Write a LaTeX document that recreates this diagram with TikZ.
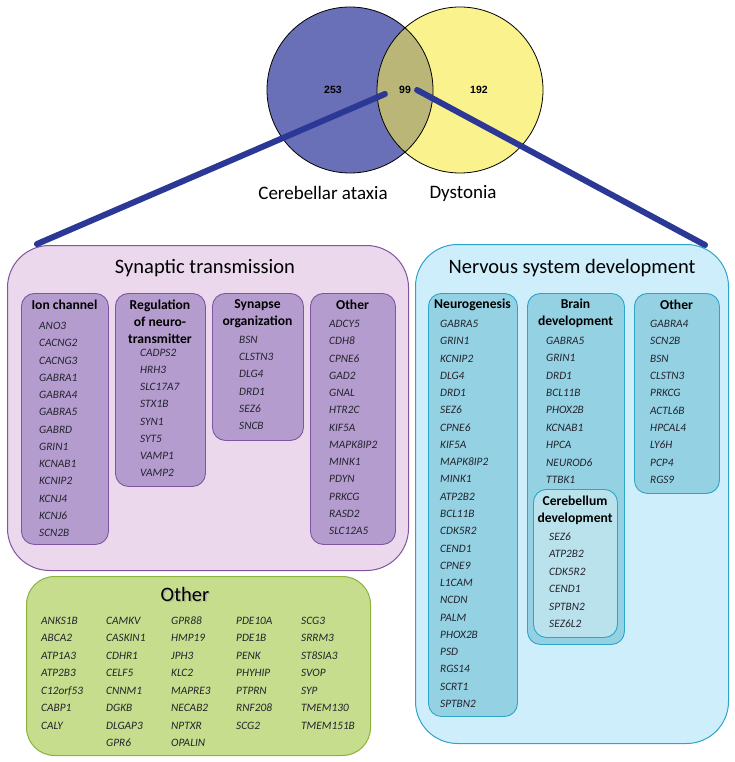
\documentclass[tikz,border=0pt]{standalone}
\usepackage{fontspec}
\setmainfont{Carlito}
\newfontfamily\numfont{Liberation Sans}
\usetikzlibrary{positioning}

\definecolor{ataxia}{RGB}{106,112,184}
\definecolor{dyst}{RGB}{250,242,140}
\definecolor{overlap}{RGB}{186,182,120}
\definecolor{linkblue}{RGB}{43,56,150}
\definecolor{synfill}{RGB}{236,216,236}
\definecolor{synline}{RGB}{125,85,160}
\definecolor{synsub}{RGB}{181,156,207}
\definecolor{nsdfill}{RGB}{207,238,251}
\definecolor{nsdline}{RGB}{45,165,200}
\definecolor{nsdsub}{RGB}{148,209,226}
\definecolor{cerfill}{RGB}{186,226,237}
\definecolor{othfill}{RGB}{197,221,140}
\definecolor{othline}{RGB}{140,178,62}
\definecolor{genetext}{RGB}{35,35,45}

\tikzset{
  bigbox/.style={draw, line width=1pt, rounded corners=42pt, anchor=north west, inner sep=0pt},
  subbox/.style={draw, line width=0.9pt, rounded corners=13pt, anchor=north west, inner sep=0pt},
  gene/.style={anchor=west, inner sep=0pt, text height=7pt, text depth=0pt, text=genetext,
    font=\fontsize{11.3}{13}\selectfont\itshape},
  head/.style={inner sep=0pt, align=center, font=\fontsize{13.6}{17}\selectfont\bfseries},
  title/.style={inner sep=0pt, font=\fontsize{20.5}{24}\selectfont},
  count/.style={inner sep=0pt, font=\numfont\fontsize{10.5}{12}\selectfont\bfseries},
  link/.style={linkblue, line width=6pt, line cap=round},
}

\begin{document}
\begin{tikzpicture}[x=1pt,y=-1pt]
  \useasboundingbox (0,0) rectangle (734,762);

  % Venn
  \fill[ataxia] (350,90) circle (83);
  \fill[dyst] (460,90) circle (83);
  \begin{scope}
    \clip (350,90) circle (83);
    \fill[overlap] (460,90) circle (83);
  \end{scope}
  \draw[line width=0.8pt] (350,90) circle (83) (460,90) circle (83);
  \node[count] (n253) at (333,90) {253};
  \node[count] (n99) at (405,90) {99};
  \node[count] (n192) at (479,90) {192};
  \node[inner sep=0pt, font=\fontsize{19}{22}\selectfont] (ataxialbl) at (323,193) {Cerebellar ataxia};
  \node[inner sep=0pt, font=\fontsize{19}{22}\selectfont] (dystlbl) at (463,193) {Dystonia};

  % Boxes
  \node[bigbox, fill=synfill, draw=synline, minimum width=401, minimum height=325] (syn) at (7,245) {};
  \node[bigbox, fill=nsdfill, draw=nsdline, minimum width=313, minimum height=499] (nsd) at (415,244) {};
  \node[bigbox, rounded corners=28pt, fill=othfill, draw=othline, minimum width=344, minimum height=179] (oth) at (26,576) {};

  \coordinate (synend) at (37,244);
  \coordinate (nsdend) at (705,245);
  \draw[link] (n99.west) ++(-14,4) -- (synend);
  \draw[link] (n99.east) ++(6,0) -- (nsdend);

  % Synaptic transmission
  \node[title] (syntitle) at (205,268) {Synaptic transmission};
  \node[subbox, fill=synsub, draw=synline, minimum width=87, minimum height=251] (ionbox) at (21,293) {};
  \node[subbox, fill=synsub, draw=synline, minimum width=90, minimum height=193] (regbox) at (115,293) {};
  \node[subbox, fill=synsub, draw=synline, minimum width=91, minimum height=147] (orgbox) at (212,293) {};
  \node[subbox, fill=synsub, draw=synline, minimum width=85, minimum height=251] (sothbox) at (310,293) {};
  \node[head] (ionhead) at (64.5,305) {Ion channel};
  \node[head] (reghead) at (160,321.5) {Regulation\\of neuro-\\transmitter};
  \node[head] (orghead) at (257.5,313.5) {Synapse\\organization};
  \node[head] (sothhead) at (352.5,305) {Other};
  \foreach \g [count=\i] in {ANO3,CACNG2,CACNG3,GABRA1,GABRA4,GABRA5,GABRD,GRIN1,KCNAB1,KCNIP2,KCNJ4,KCNJ6,SCN2B}
    \node[gene] (ion\i) at (39,{326+17.25*(\i-1)}) {\g};
  \foreach \g [count=\i] in {CADPS2,HRH3,SLC17A7,STX1B,SYN1,SYT5,VAMP1,VAMP2}
    \node[gene] (reg\i) at (140,{353+17.15*(\i-1)}) {\g};
  \foreach \g [count=\i] in {BSN,CLSTN3,DLG4,DRD1,SEZ6,SNCB}
    \node[gene] (org\i) at (239,{340+17.2*(\i-1)}) {\g};
  \foreach \g [count=\i] in {ADCY5,CDH8,CPNE6,GAD2,GNAL,HTR2C,KIF5A,MAPK8IP2,MINK1,PDYN,PRKCG,RASD2,SLC12A5}
    \node[gene] (soth\i) at (329,{324+17.25*(\i-1)}) {\g};

  % Nervous system development
  \node[title] (nsdtitle) at (572,268) {Nervous system development};
  \node[subbox, fill=nsdsub, draw=nsdline, minimum width=89, minimum height=423] (neurobox) at (428,293) {};
  \node[subbox, fill=nsdsub, draw=nsdline, minimum width=97, minimum height=351] (brainbox) at (527,293) {};
  \node[subbox, fill=cerfill, draw=nsdline, minimum width=84, minimum height=148] (cerbox) at (533,489) {};
  \node[subbox, fill=nsdsub, draw=nsdline, minimum width=85, minimum height=200] (nothbox) at (634,293) {};
  \node[head] (neurohead) at (472.5,305) {Neurogenesis};
  \node[head] (brainhead) at (575.5,313.5) {Brain\\development};
  \node[head] (cerhead) at (575,510.5) {Cerebellum\\development};
  \node[head] (nothhead) at (676.5,305) {Other};
  \foreach \g [count=\i] in {GABRA5,GRIN1,KCNIP2,DLG4,DRD1,SEZ6,CPNE6,KIF5A,MAPK8IP2,MINK1,ATP2B2,BCL11B,CDK5R2,CEND1,CPNE9,L1CAM,NCDN,PALM,PHOX2B,PSD,RGS14,SCRT1,SPTBN2}
    \node[gene] (neuro\i) at (440,{324+17.27*(\i-1)}) {\g};
  \foreach \g [count=\i] in {GABRA5,GRIN1,DRD1,BCL11B,PHOX2B,KCNAB1,HPCA,NEUROD6,TTBK1}
    \node[gene] (brain\i) at (546,{341+17.37*(\i-1)}) {\g};
  \foreach \g [count=\i] in {SEZ6,ATP2B2,CDK5R2,CEND1,SPTBN2,SEZ6L2}
    \node[gene] (cer\i) at (549,{537+17.4*(\i-1)}) {\g};
  \foreach \g [count=\i] in {GABRA4,SCN2B,BSN,CLSTN3,PRKCG,ACTL6B,HPCAL4,LY6H,PCP4,RGS9}
    \node[gene] (noth\i) at (650,{324+17.33*(\i-1)}) {\g};

  % Other
  \node[title, text=black!35, opacity=0.7] (othshadow) at (186.5,595.5) {Other};
  \node[title] (othtitle) at (185,594) {Other};
  \foreach \g [count=\i] in {ANKS1B,ABCA2,ATP1A3,ATP2B3,C12orf53,CABP1,CALY}
    \node[gene] (oa\i) at (41,{621+17.43*(\i-1)}) {\g};
  \foreach \g [count=\i] in {CAMKV,CASKIN1,CDHR1,CELF5,CNNM1,DGKB,DLGAP3,GPR6}
    \node[gene] (ob\i) at (106,{621+17.43*(\i-1)}) {\g};
  \foreach \g [count=\i] in {GPR88,HMP19,JPH3,KLC2,MAPRE3,NECAB2,NPTXR,OPALIN}
    \node[gene] (oc\i) at (171,{621+17.43*(\i-1)}) {\g};
  \foreach \g [count=\i] in {PDE10A,PDE1B,PENK,PHYHIP,PTPRN,RNF208,SCG2}
    \node[gene] (od\i) at (236,{621+17.43*(\i-1)}) {\g};
  \foreach \g [count=\i] in {SCG3,SRRM3,ST8SIA3,SVOP,SYP,TMEM130,TMEM151B}
    \node[gene] (oe\i) at (301,{621+17.43*(\i-1)}) {\g};

\end{tikzpicture}
\end{document}
